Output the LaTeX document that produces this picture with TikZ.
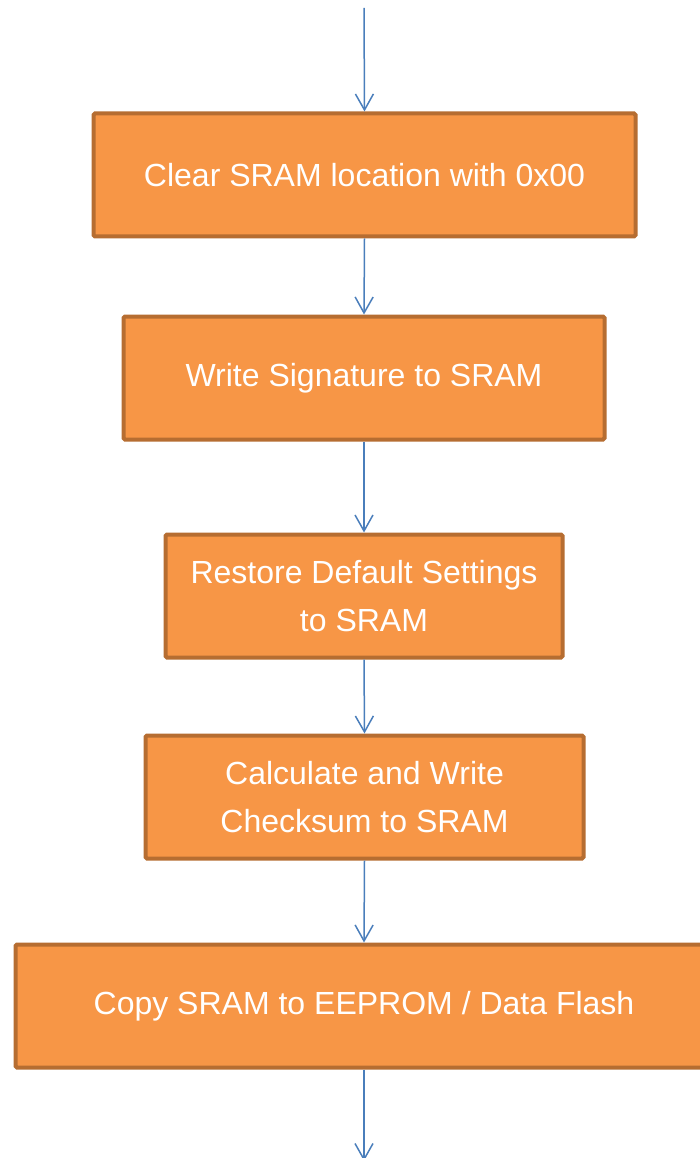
\documentclass[tikz,border=0pt]{standalone}
\usepackage{fontspec}
\setmainfont{Liberation Sans}
\usetikzlibrary{arrows.meta}
\definecolor{boxfill}{HTML}{F79646}
\definecolor{boxline}{HTML}{B66D31}
\definecolor{arrowcol}{HTML}{4A7EBB}
\tikzset{
  stepbox/.style={draw=boxline, fill=boxfill, line width=4pt, rounded corners=1.5pt,
    minimum height=123pt, text=white, align=center,
    font=\fontsize{32}{48}\selectfont},
  flow/.style={draw=arrowcol, line width=1.5pt, -{Straight Barb[length=16pt,width=18pt,line width=1.5pt]}}
}
\begin{document}
\begin{tikzpicture}[x=1pt,y=-1pt]
\useasboundingbox (0,0) rectangle (700,1158);
\clip (0,0) rectangle (700,1158);
\coordinate (top) at (364,8);
\coordinate (bot) at (364,1161);
\node[stepbox, minimum width=542pt] (b1) at (364.5,175) {Clear SRAM location with 0x00};
\node[stepbox, minimum width=481pt] (b2) at (364,378) {Write Signature to SRAM};
\node[stepbox, minimum width=397pt] (b3) at (364,596) {Restore Default Settings\\to SRAM};
\node[stepbox, minimum width=438pt] (b4) at (364.5,797) {Calculate and Write\\Checksum to SRAM};
\node[stepbox, minimum width=697pt] (b5) at (364,1006) {Copy SRAM to EEPROM / Data Flash};
\draw[flow] (top) -- (b1.north);
\draw[flow] (b1.south) -- (b2.north);
\draw[flow] (b2.south) -- (b3.north);
\draw[flow] (b3.south) -- (b4.north);
\draw[flow] (b4.south) -- (b5.north);
\draw[flow] (b5.south) -- (bot);
\end{tikzpicture}
\end{document}
